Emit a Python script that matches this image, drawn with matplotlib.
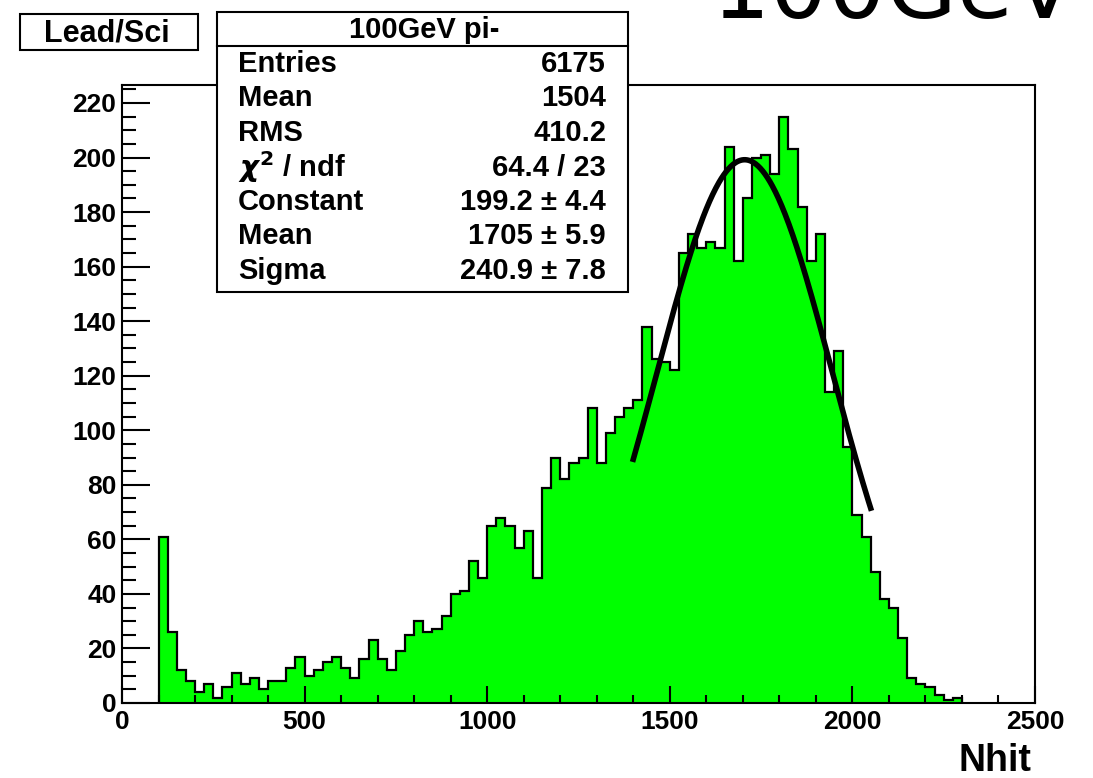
import numpy as np
import matplotlib
matplotlib.use("Agg")
import matplotlib.pyplot as plt
from matplotlib.patches import Rectangle
from matplotlib.ticker import MultipleLocator

plt.rcParams['font.family'] = ['Liberation Sans', 'DejaVu Sans']
plt.rcParams['font.weight'] = 'bold'

# histogram: 25-wide bins from 100 to 2300
bin_start = 100
bin_width = 25
counts = [61, 26, 12, 8, 4, 7, 2, 6, 11, 7, 9, 5, 8, 8, 13, 17,
          10, 12, 15, 17, 13, 9, 16, 23, 16, 12, 19, 25, 30, 26, 27, 32,
          40, 41, 52, 46, 65, 68, 65, 57, 63, 46, 79, 90, 82, 88, 90, 108,
          88, 99, 105, 108, 111, 138, 126, 125, 122, 165, 172, 167, 169, 167, 204, 162,
          185, 200, 201, 194, 215, 203, 182, 162, 172, 114, 129, 94, 69, 61, 48, 38,
          35, 24, 9, 7, 6, 3, 1, 2]

# gaus fit parameters and range
fit_const = 199.2
fit_mean = 1705
fit_sigma = 240.9
fit_range = (1400, 2050)

stat_labels = ["Entries", "Mean", "RMS", r"$\chi^{2}$ / ndf", "Constant", "Mean", "Sigma"]
stat_values = ["6175", "1504", "410.2", "64.4 / 23", "199.2 ± 4.4", "1705 ± 5.9", "240.9 ± 7.8"]

W, H = 1093, 778
fig = plt.figure(figsize=(W / 100, H / 100), dpi=100)
ax = fig.add_axes([122 / W, 1 - 703 / H, 913 / W, 618 / H])

edges = bin_start + bin_width * np.arange(len(counts) + 1)
ax.stairs(counts, edges, fill=True, facecolor='#00ff00', zorder=1)
ax.stairs(counts, edges, color='black', linewidth=1.6, baseline=0, zorder=2)

xf = np.linspace(fit_range[0], fit_range[1], 300)
yf = fit_const * np.exp(-0.5 * ((xf - fit_mean) / fit_sigma) ** 2)
ax.plot(xf, yf, color='black', linewidth=4, zorder=3)

ax.set_xlim(0, 2500)
ax.set_ylim(0, 226.6)
ax.xaxis.set_major_locator(MultipleLocator(500))
ax.xaxis.set_minor_locator(MultipleLocator(100))
ax.yaxis.set_major_locator(MultipleLocator(20))
ax.yaxis.set_minor_locator(MultipleLocator(5))
ax.tick_params(axis='both', which='both', direction='in', top=False, right=False,
               width=1.5, labelsize=19)
ax.tick_params(axis='y', which='major', length=20, pad=4)
ax.tick_params(axis='y', which='minor', length=10)
ax.tick_params(axis='x', which='major', length=12, pad=5)
ax.tick_params(axis='x', which='minor', length=6)
for s in ax.spines.values():
    s.set_linewidth(1.5)

def fx(px):
    return px / W

def fy(py):
    return 1 - py / H

# Lead/Sci box
fig.patches.append(Rectangle((fx(20), fy(50)), fx(198) - fx(20), fy(14) - fy(50),
                             transform=fig.transFigure, facecolor='white',
                             edgecolor='black', linewidth=1.5, zorder=5))
fig.text(fx(107), fy(33), "Lead/Sci", ha='center', va='center', fontsize=22, zorder=6)

# stats box
fig.patches.append(Rectangle((fx(217), fy(292)), fx(628) - fx(217), fy(12) - fy(292),
                             transform=fig.transFigure, facecolor='white',
                             edgecolor='black', linewidth=1.5, zorder=5))
fig.lines.append(plt.Line2D([fx(217), fx(628)], [fy(46), fy(46)],
                            transform=fig.transFigure, color='black', linewidth=1.5, zorder=6))
fig.text(fx(424), fy(30), "100GeV pi-", ha='center', va='center', fontsize=21, zorder=6)
for i, (lab, val) in enumerate(zip(stat_labels, stat_values)):
    y = fy(64 + 34.5 * i)
    fig.text(fx(238), y, lab, ha='left', va='center', fontsize=21, zorder=6)
    fig.text(fx(606), y, val, ha='right', va='center', fontsize=21, zorder=6)

fig.text(fx(1031), fy(761), "Nhit", ha='right', va='center', fontsize=27)

# big label cut off by the top edge
fig.text(fx(712), fy(18), "100GeV", ha='left', va='baseline', fontsize=66,
         family='DejaVu Sans', weight='normal')

fig.savefig("out.png", dpi=100)
